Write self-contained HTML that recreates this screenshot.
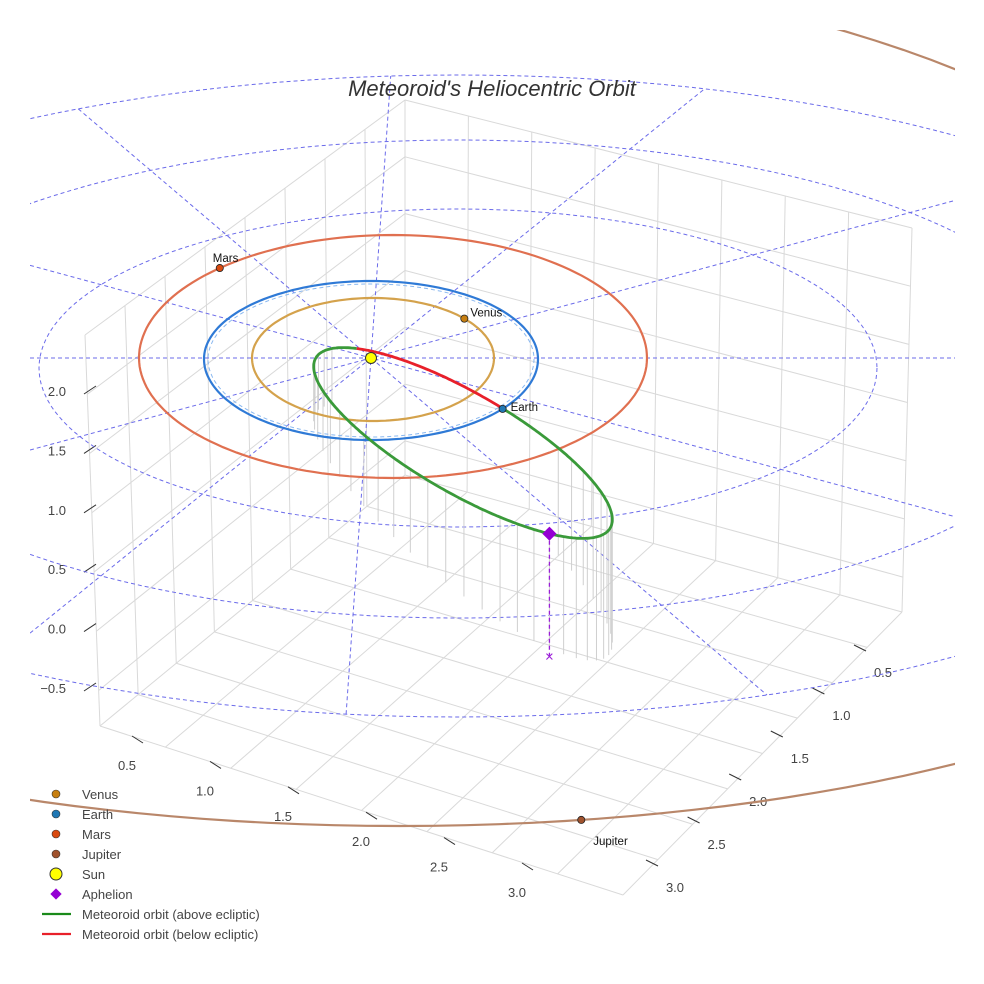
<!DOCTYPE html>
<html><head><meta charset="utf-8"><style>
html,body{margin:0;background:#fff;overflow:hidden;width:984px;height:984px}
svg{display:block;font-family:"Liberation Sans",sans-serif}
</style></head><body>
<svg id="chart" width="984" height="984" viewBox="0 0 984 984">
<defs>
<clipPath id="clip"><rect x="30" y="30" width="925" height="954"/></clipPath>
</defs>
<g id="box"></g>
<g clip-path="url(#clip)"><g id="polar"></g></g>
<g id="orbits" clip-path="url(#clip)"></g>
<g id="marks"></g>
<text x="492" y="96" text-anchor="middle" font-size="22" font-style="italic" fill="#333">Meteoroid's Heliocentric Orbit</text>
<g id="legend"></g>
</svg>
<script>
// ---- data ----
const planetNames = ["Venus","Earth","Mars","Jupiter"];
const planetAnglesDeg = [-41, 38, -133, 79];
const planetOrbitColors = ["#d4a24c","#2f7ad6","#e07050","#b9876a"];
const planetDotColors = ["#c77f10","#1f77b4","#d94a10","#a0522d"];
const meteorA = [170];
const meteorB = [50];
const meteorTiltDeg = [30];
const redArcDeg = [-145, -85];
const aphelionDeg = [45];
const aphelionDrop = [123];
const zTicks = ["2.0","1.5","1.0","0.5","0.0","−0.5"];
const xTicks = ["0.5","1.0","1.5","2.0","2.5","3.0"];
const yTicks = ["3.0","2.5","2.0","1.5","1.0","0.5"];
const polarSpokeSlopesDeg = [0, 40.4, 15.2, -38.9, -15.1, -86];

// ---- screen geometry (layout) ----
const SX=371, SY=358;
const orbitGeom = [ // cx, cy, rx, ryTop, ryBottom
 [373,358,121,60,63],
 [371,359,167,78,81],
 [393,358,254,123,120],
 [400,496,950,526,330]];
const polarGeom = [[458,368,419,159,159],[458,379,630,239,239],[458,396,850,321,321]];
function ept(g,deg){const a=deg*Math.PI/180,s=Math.sin(a);return [g[0]+g[2]*Math.cos(a), g[1]+s*(s<0?g[3]:g[4])];}
function ellD(g){let d='';for(let i=0;i<=360;i+=2){const p=ept(g,i);d+=(i?'L':'M')+p[0].toFixed(1)+' '+p[1].toFixed(1);}return d;}

const NS="http://www.w3.org/2000/svg";
function el(tag,attrs,parent){const e=document.createElementNS(NS,tag);for(const k in attrs)e.setAttribute(k,attrs[k]);parent.appendChild(e);return e;}
const box=document.getElementById('box'),polar=document.getElementById('polar'),orbits=document.getElementById('orbits'),marks=document.getElementById('marks'),legend=document.getElementById('legend');

// ---- box ----
const L=[85,335],B=[405,100],R=[912,228],Lb=[100,726],Bb=[405,475],Rb=[902,612],F=[623,895];
function lerp(a,b,t){return [a[0]+(b[0]-a[0])*t,a[1]+(b[1]-a[1])*t];}
function ln(a,b,c,w){const l=el('line',{x1:a[0],y1:a[1],x2:b[0],y2:b[1],stroke:c||'#d9d9d9','stroke-width':w||1},box);}
const N=8;
for(let i=0;i<=N;i++){const t=i/N;
 ln(lerp(L,B,t),lerp(Lb,Bb,t));
 ln(lerp(B,R,t),lerp(Bb,Rb,t));
 ln(lerp(Lb,Bb,t),lerp(F,Rb,t));
 ln(lerp(Lb,F,t),lerp(Bb,Rb,t));}
for(let i=0;i<=6;i++){const t=i/6.6;
 ln(lerp(L,Lb,t),lerp(B,Bb,t)); ln(lerp(B,Bb,t),lerp(R,Rb,t));}
zTicks.forEach((v,i)=>{const y=391+i*59.4;
 const t=el('text',{x:66,y:y+5,'text-anchor':'end','font-size':13,fill:'#444'},box);t.textContent=v;
 
 ln([84,y+3],[96,y-5],'#333',1);});
xTicks.forEach((v,i)=>{const x=127+i*78,y=765+i*25.4;
 const t=el('text',{x:x,y:y+5,'text-anchor':'middle','font-size':13,fill:'#444'},box);t.textContent=v;
 
 ln([x+5,y-29],[x+16,y-22],'#333',1);});
yTicks.forEach((v,i)=>{const x=666+i*41.6,y=887-i*43;
 const t=el('text',{x:x+9,y:y+5,'text-anchor':'middle','font-size':13,fill:'#444'},box);t.textContent=v;
 
 ln([x-20,y-27],[x-8,y-21],'#333',1);});

// ---- polar grid ----
polarGeom.forEach(g=>{const p=el('path',{d:ellD(g),fill:'none',stroke:'#6b6bea','stroke-width':1,'stroke-dasharray':'4,3'},polar);
 });
const OG=polarGeom[2];
function hit(dx,dy){const px=(SX-OG[0])/OG[2],py=(SY-OG[1])/OG[3],qx=dx/OG[2],qy=dy/OG[3];
 const a=qx*qx+qy*qy,b=2*(px*qx+py*qy),c=px*px+py*py-1;return (-b+Math.sqrt(b*b-4*a*c))/(2*a);}
function clampPt(x,y){return [Math.max(30,Math.min(955,x)),y];}
polarSpokeSlopesDeg.forEach(a=>{const r=a*Math.PI/180,dx=Math.cos(r),dy=Math.sin(r);
 const t1=hit(dx,dy),t2=hit(-dx,-dy);
 let p1=[SX+dx*t1,SY+dy*t1],p2=[SX-dx*t2,SY-dy*t2];
 function cut(p){ // trim to x range 30..955 along the line
   if(p[0]>955){const k=(955-SX)/(p[0]-SX);return [955,SY+(p[1]-SY)*k];}
   if(p[0]<30){const k=(30-SX)/(p[0]-SX);return [30,SY+(p[1]-SY)*k];}
   return p;}
 p1=cut(p1);p2=cut(p2);
 const l=el('line',{x1:p2[0],y1:p2[1],x2:p1[0],y2:p1[1],stroke:'#6b6bea','stroke-width':1,'stroke-dasharray':'4,3'},polar);
 });

// ---- meteoroid orbit ----
const tilt=meteorTiltDeg[0]*Math.PI/180, MCX=463, MCY=443;
function mpt(deg){const t=deg*Math.PI/180,u=meteorA[0]*Math.cos(t),v=meteorB[0]*Math.sin(t);return [MCX+u*Math.cos(tilt)-v*Math.sin(tilt),MCY+u*Math.sin(tilt)+v*Math.cos(tilt),u];}
for(let d=-60;d<=200;d+=7){const p=mpt(d);const len=55+(p[2]+170)/340*70;
 const l=el('line',{x1:p[0],y1:p[1],x2:p[0],y2:p[1]+len,stroke:'#cfcfcf','stroke-width':1},orbits);
 }

planetNames.forEach((n,i)=>{
 const p=el('path',{d:ellD(orbitGeom[i]),fill:'none',stroke:planetOrbitColors[i],'stroke-width':2.2},orbits);
 });
const eg=orbitGeom[1];
const ed=el('path',{d:ellD([eg[0],eg[1],eg[2]-4,eg[3]-3,eg[4]-3]),fill:'none',stroke:'#8ab8f0','stroke-width':1,'stroke-dasharray':'4,3'},orbits);


function arc(a0,a1){let d='';for(let x=a0,i=0;x<=a1+0.01;x+=1,i++){const p=mpt(x);d+=(i?'L':'M')+p[0].toFixed(1)+' '+p[1].toFixed(1);}return d;}
const g=el('path',{d:arc(redArcDeg[1],redArcDeg[0]+360),fill:'none',stroke:'#3a9a3a','stroke-width':2.8},orbits);

const rd=el('path',{d:arc(redArcDeg[0],redArcDeg[1]),fill:'none',stroke:'#e8202a','stroke-width':2.8},orbits);


// ---- marks ----
const ap=mpt(aphelionDeg[0]);
const dl=el('line',{x1:ap[0],y1:ap[1],x2:ap[0],y2:ap[1]+aphelionDrop[0],stroke:'#9b1fd8','stroke-width':1.3,'stroke-dasharray':'4,3'},marks);

const xm=el('text',{x:ap[0],y:ap[1]+aphelionDrop[0]+5,'text-anchor':'middle','font-size':15,fill:'#9b1fd8'},marks);xm.textContent='×';

const dm=el('rect',{x:ap[0]-5,y:ap[1]-5,width:10,height:10,fill:'#9400d3',transform:`rotate(45 ${ap[0]} ${ap[1]})`},marks);

const labelOff=[[6,-2],[8,2],[-7,-6],[12,25]];
planetNames.forEach((n,i)=>{const p=ept(orbitGeom[i],planetAnglesDeg[i]);
 const c=el('circle',{cx:p[0],cy:p[1],r:3.6,fill:planetDotColors[i],stroke:'#222','stroke-width':0.8},marks);
 
 const t=el('text',{x:p[0]+labelOff[i][0],y:p[1]+labelOff[i][1],'font-size':11.5,fill:'#111'},marks);t.textContent=n;
 });
const sun=el('circle',{cx:SX,cy:SY,r:5.5,fill:'#ffff00',stroke:'#333','stroke-width':1},marks);


// ---- legend ----
const legItems=[["Venus","dot","#c77f10"],["Earth","dot","#1f77b4"],["Mars","dot","#d94a10"],["Jupiter","dot","#a0522d"],["Sun","sun","#ffff00"],["Aphelion","dia","#9400d3"],["Meteoroid orbit (above ecliptic)","line","#1a8a1a"],["Meteoroid orbit (below ecliptic)","line","#e8202a"]];
legItems.forEach((it,i)=>{const y=794+i*20;
 const gg=el('g',{},legend);
 if(it[1]=='dot')el('circle',{cx:56,cy:y,r:4,fill:it[2],stroke:'#333','stroke-width':0.6},gg);
 if(it[1]=='sun')el('circle',{cx:56,cy:y,r:6,fill:it[2],stroke:'#333','stroke-width':1},gg);
 if(it[1]=='dia')el('rect',{x:52,y:y-4,width:8,height:8,fill:it[2],transform:`rotate(45 56 ${y})`},gg);
 if(it[1]=='line')el('line',{x1:42,y1:y,x2:71,y2:y,stroke:it[2],'stroke-width':2.2},gg);
 const t=el('text',{x:82,y:y+5,'font-size':13,fill:'#444'},gg);t.textContent=it[0];});
</script>
</body></html>
